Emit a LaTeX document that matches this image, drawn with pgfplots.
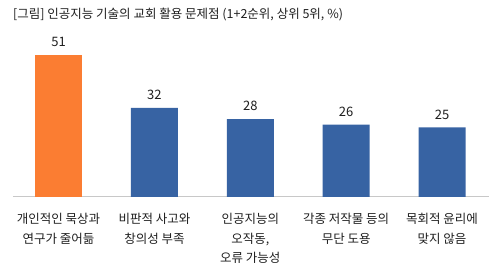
\documentclass[border=0pt]{standalone}
\usepackage{fontspec}
\setmainfont{Noto Sans CJK KR}
\usepackage{pgfplots}
\pgfplotsset{compat=1.18}
\definecolor{orng}{RGB}{251,125,50}
\definecolor{blu}{RGB}{55,99,163}
\definecolor{axg}{RGB}{200,200,200}
\definecolor{txt}{RGB}{30,30,30}
\begin{document}
\begin{tikzpicture}[x=1pt,y=1pt]
\useasboundingbox (0,0) rectangle (501,272);
\node[anchor=west, font=\fontsize{12.5}{15}\selectfont, text=txt, inner sep=0] at (13,257) {[그림] 인공지능 기술의 교회 활용 문제점 (1+2순위, 상위 5위, \%)};
\begin{axis}[
  at={(13pt,75pt)}, anchor=south west,
  scale only axis, width=476pt, height=167pt,
  xmin=-0.475, xmax=4.49, ymin=0, ymax=60,
  hide y axis,
  axis x line*=bottom,
  x axis line style={axg, line width=1pt, -},
  xtick={0,1,2,3,4},
  xtick style={draw=none},
  xticklabels={{개인적인 묵상과\\연구가 줄어듦},{비판적 사고와\\창의성 부족},{인공지능의\\오작동,\\오류 가능성},{각종 저작물 등의\\무단 도용},{목회적 윤리에\\맞지 않음}},
  xticklabel style={anchor=north, inner sep=0, yshift=-12pt, align=center, font=\fontsize{12.5}{19.5}\selectfont, text=txt},
  ybar, bar width=47pt, bar shift=0pt,
  nodes near coords,
  /pgf/number format/assume math mode=true,
  every node near coord/.append style={anchor=south, inner sep=0, yshift=8pt, font=\fontsize{13}{15}\selectfont, text=txt},
]
\addplot[draw=none, fill=orng] coordinates {(0,51)};
\addplot[draw=none, fill=blu] coordinates {(1,32) (2,28) (3,26) (4,25)};
\end{axis}
\end{tikzpicture}
\end{document}
